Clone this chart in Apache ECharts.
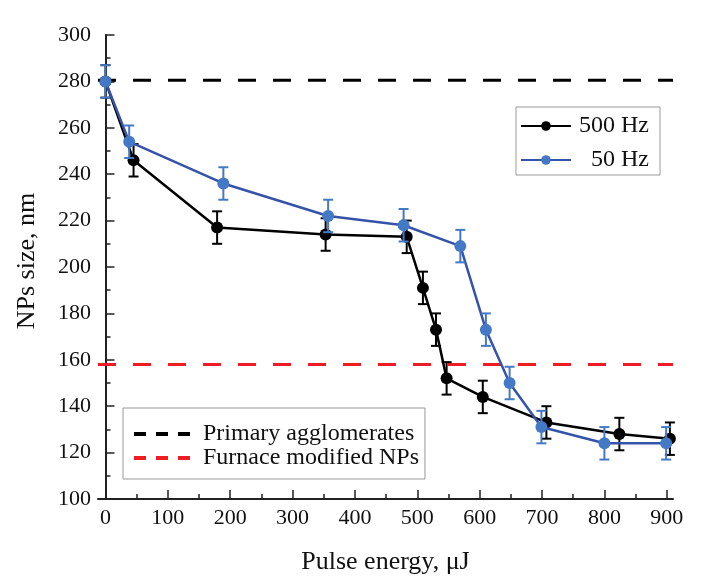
<!DOCTYPE html>
<html>
<head>
<meta charset="utf-8">
<script src="https://cdn.jsdelivr.net/npm/echarts@6/dist/echarts.min.js"></script>
<style>
  html, body { margin: 0; padding: 0; background: #fff; }
  #chart { width: 710px; height: 586px; }
</style>
</head>
<body>
<div id="chart"></div>
<script>
// values
const energy500 = [0, 45, 179, 353, 483, 509, 530, 547, 605, 707, 824, 905];
const size500 = [280, 246, 217, 214, 213, 191, 173, 152, 144, 133, 128, 126];
const err500 = [7, 7, 7, 7, 7, 7, 7, 7, 7, 7, 7, 7];

const energy50 = [0, 38, 189, 357, 478, 569, 610, 648, 699, 800, 899];
const size50 = [280, 254, 236, 222, 218, 209, 173, 150, 131, 124, 124];
const err50 = [7, 7, 7, 7, 7, 7, 7, 7, 7, 7, 7];

const primaryLevel = 280.5;
const furnaceLevel = 158;

const xTicks = [0, 100, 200, 300, 400, 500, 600, 700, 800, 900];
const xMinorTicks = [50, 150, 250, 350, 450, 550, 650, 750, 850];

const FONT = "Liberation Serif";
const BLUE_LINE = "#3553a8";
const BLUE_MARK = "#4479c6";

const chart = echarts.init(document.getElementById("chart"));

function pairs(xs, ys) {
  return xs.map((x, i) => [x, ys[i]]);
}
function errData(xs, ys, es) {
  return xs.map((x, i) => [x, ys[i] - es[i], ys[i] + es[i]]);
}
function errorBars(color) {
  return function (params, api) {
    const x = api.value(0);
    const lo = api.coord([x, api.value(1)]);
    const hi = api.coord([x, api.value(2)]);
    const w = 5;
    const style = { stroke: color, lineWidth: 2 };
    return {
      type: "group",
      children: [
        { type: "line", shape: { x1: lo[0], y1: lo[1], x2: hi[0], y2: hi[1] }, style: style },
        { type: "line", shape: { x1: lo[0] - w, y1: lo[1], x2: lo[0] + w, y2: lo[1] }, style: style },
        { type: "line", shape: { x1: hi[0] - w, y1: hi[1], x2: hi[0] + w, y2: hi[1] }, style: style },
      ],
    };
  };
}

const hidden = { color: "rgba(0,0,0,0)", opacity: 0, borderWidth: 0 };

const option = {
  animation: false,
  textStyle: { fontFamily: FONT },
  grid: { left: 98, right: 37, top: 35, bottom: 87 },
  legend: [
    {
      data: ["500 Hz", "50 Hz"],
      left: 516,
      top: 107,
      orient: "vertical",
      itemWidth: 50,
      itemHeight: 12,
      itemGap: 10,
      padding: [7, 11, 3, 4],
      borderColor: "#999",
      borderWidth: 1,
      formatter: (name) => "{r|" + name + "}",
      textStyle: {
        fontFamily: FONT,
        fontSize: 24,
        color: "#111",
        rich: { r: { width: 73, align: "right", fontFamily: FONT, fontSize: 24, lineHeight: 24, color: "#111" } },
      },
    },
    {
      data: [
        { name: "Primary agglomerates", lineStyle: { type: [12, 10], width: 4 }, itemStyle: hidden },
        { name: "Furnace modified NPs", lineStyle: { type: [12, 10], width: 4 }, itemStyle: hidden },
      ],
      left: 123,
      top: 408,
      orient: "vertical",
      itemWidth: 60,
      itemHeight: 12,
      itemGap: 0,
      padding: [14, 6, 9, 9],
      borderColor: "#999",
      borderWidth: 1,
      formatter: (name) => "{t|" + name + "}",
      textStyle: {
        fontFamily: FONT,
        fontSize: 24,
        color: "#111",
        rich: { t: { padding: [0, 0, 0, 4], fontFamily: FONT, fontSize: 24, lineHeight: 23, color: "#111" } },
      },
    },
  ],
  xAxis: [
    {
      type: "value",
      min: -12,
      max: 910,
      name: "Pulse energy, μJ",
      nameLocation: "middle",
      nameGap: 50,
      nameTextStyle: { fontFamily: FONT, fontSize: 26, color: "#111" },
      axisLine: { lineStyle: { color: "#222", width: 2 } },
      axisTick: { inside: true, length: 9, customValues: xTicks, lineStyle: { color: "#222", width: 1.5 } },
      axisLabel: { customValues: xTicks, margin: 8, fontFamily: FONT, fontSize: 22, color: "#111" },
      splitLine: { show: false },
    },
    {
      type: "value",
      min: -12,
      max: 910,
      position: "bottom",
      axisLine: { show: false },
      axisTick: { inside: true, length: 5, customValues: xMinorTicks, lineStyle: { color: "#222", width: 1.5 } },
      axisLabel: { show: false },
      splitLine: { show: false },
    },
  ],
  yAxis: {
    type: "value",
    min: 100,
    max: 300,
    interval: 20,
    name: "NPs size, nm",
    nameLocation: "middle",
    nameGap: 58,
    nameTextStyle: { fontFamily: FONT, fontSize: 26, color: "#111", padding: [0, 0, 0, 12] },
    axisLine: { show: true, lineStyle: { color: "#222", width: 2 } },
    axisTick: { inside: true, length: 9, lineStyle: { color: "#222", width: 1.5 } },
    minorTick: { show: true, splitNumber: 2, length: 5, lineStyle: { color: "#222", width: 1.5 } },
    axisLabel: { margin: 7, fontFamily: FONT, fontSize: 22, color: "#111" },
    splitLine: { show: false },
  },
  series: [
    {
      name: "Primary agglomerates",
      type: "line",
      data: [[-12, primaryLevel], [910, primaryLevel]],
      symbol: "none",
      color: "#000",
      lineStyle: { color: "#000", width: 3, type: [18, 17] },
      z: 1,
    },
    {
      name: "Furnace modified NPs",
      type: "line",
      data: [[-12, furnaceLevel], [910, furnaceLevel]],
      symbol: "none",
      color: "#ee1c24",
      lineStyle: { color: "#ee1c24", width: 3, type: [18, 17] },
      z: 1,
    },
    {
      name: "500 Hz",
      type: "line",
      data: pairs(energy500, size500),
      symbol: "circle",
      symbolSize: 12,
      color: "#000",
      itemStyle: { color: "#000" },
      lineStyle: { color: "#000", width: 2.5 },
      z: 3,
    },
    {
      type: "custom",
      data: errData(energy500, size500, err500),
      renderItem: errorBars("#000"),
      encode: { x: 0, y: [1, 2] },
      z: 4,
    },
    {
      name: "50 Hz",
      type: "line",
      data: pairs(energy50, size50),
      symbol: "circle",
      symbolSize: 12,
      color: BLUE_MARK,
      itemStyle: { color: BLUE_MARK },
      lineStyle: { color: BLUE_LINE, width: 2.5 },
      z: 5,
    },
    {
      type: "custom",
      data: errData(energy50, size50, err50),
      renderItem: errorBars(BLUE_MARK),
      encode: { x: 0, y: [1, 2] },
      z: 6,
    },
  ],
};

chart.setOption(option);
</script>
</body>
</html>
